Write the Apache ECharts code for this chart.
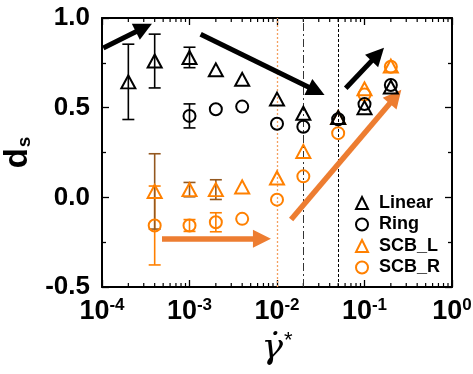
<!DOCTYPE html>
<html><head><meta charset="utf-8">
<script src="https://cdn.jsdelivr.net/npm/echarts@6/dist/echarts.min.js"></script>
<style>html,body{margin:0;padding:0;background:#fff}#c{width:473px;height:374px}</style>
</head><body><div id="c"></div>
<script>
// ---- data ----
const linearX   = [2e-4, 4e-4, 1e-3, 2e-3, 4e-3, 1e-2, 2e-2, 5e-2, 0.1, 0.2];
const linearY   = [0.644, 0.76, 0.78, 0.711, 0.658, 0.548, 0.469, 0.445, 0.50, 0.615];
const linearErr = [0.21, 0.15, 0.057, 0, 0, 0, 0, 0, 0, 0];
const ringX     = [1e-3, 2e-3, 4e-3, 1e-2, 2e-2, 5e-2, 0.1, 0.2];
const ringY     = [0.454, 0.491, 0.506, 0.41, 0.394, 0.435, 0.52, 0.626];
const ringErr   = [0.067, 0, 0, 0, 0, 0, 0, 0];
const scbX      = [4e-4, 1e-3, 2e-3, 4e-3, 1e-2, 2e-2, 5e-2, 0.1, 0.2];
const scbLY     = [0.033, 0.043, 0.043, 0.058, 0.108, 0.256, 0.445, 0.605, 0.732];
const scbLErr   = [0.21, 0.04, 0.055, 0, 0, 0, 0, 0, 0];
const scbRY     = [-0.157, -0.157, -0.139, -0.12, -0.013, 0.117, 0.358, 0.573, 0.728];
const scbRErr   = [0.22, 0.033, 0.053, 0, 0, 0, 0, 0, 0];
const seriesNames = ['Linear', 'Ring', 'SCB_L', 'SCB_R'];
const refLines  = [1e-3, 4e-3, 1e-2, 2e-2, 5e-2];
const arrowsBlack  = [[[1.035e-4, 0.833], [3.01e-4, 0.946]],
                      [[1.34e-3, 0.909], [0.02825, 0.593]],
                      [[0.061, 0.608], [0.1419, 0.797]]];
const arrowsOrange = [[[4.85e-4, -0.231], [6.73e-3, -0.231]],
                      [[0.0145, -0.124], [0.226, 0.561]]];

const ORANGE = '#FF8000', BROWN = '#94581F', ARROW_OR = '#ED7D31';
const FONT = 'Liberation Sans, Arial, sans-serif';

const minorVals = [];
for (let k = -4; k < 0; k++) for (let m = 2; m <= 9; m++) minorVals.push([m * Math.pow(10, k), 0]);

function errSeries(xs, ys, errs, color, z) {
  const data = xs.map((x, i) => [x, ys[i] - errs[i], ys[i] + errs[i]]).filter(d => d[2] > d[1]);
  return {
    type: 'custom', silent: true, z: z, data: data, encode: { x: 0, y: [1, 2] },
    renderItem: function (params, api) {
      const lo = api.coord([api.value(0), api.value(1)]);
      const hi = api.coord([api.value(0), api.value(2)]);
      const w = 6, st = { stroke: color, lineWidth: 1.6 };
      return { type: 'group', children: [
        { type: 'line', shape: { x1: lo[0], y1: lo[1], x2: hi[0], y2: hi[1] }, style: st },
        { type: 'line', shape: { x1: lo[0] - w, y1: lo[1], x2: lo[0] + w, y2: lo[1] }, style: st },
        { type: 'line', shape: { x1: hi[0] - w, y1: hi[1], x2: hi[0] + w, y2: hi[1] }, style: st }
      ]};
    }
  };
}
function pts(xs, ys) { return xs.map((x, i) => [x, ys[i]]); }
function scatter(name, xs, ys, symbol, size, color, z) {
  return { type: 'scatter', name: name, data: pts(xs, ys), symbol: symbol, symbolSize: size, z: z,
    itemStyle: { color: 'transparent', borderColor: color, borderWidth: 2, opacity: 1 } };
}
const refStyles = [
  { color: '#000', type: [2, 2], width: 1 },
  { color: '#333', type: [8, 3, 2, 3], width: 1 },
  { color: '#F4A060', type: [2, 2], width: 1.3 },
  { color: '#333', type: [8, 3, 2, 3], width: 1 },
  { color: '#000', type: [3, 2], width: 1 }
];

const chart = echarts.init(document.getElementById('c'), null, { renderer: 'canvas' });
const axisLineStyle = { color: '#000', width: 2 };
chart.setOption({
  animation: false,
  backgroundColor: '#fff',
  grid: { left: 102, right: 21, top: 18, bottom: 87, containLabel: false, outerBoundsMode: 'none' },
  xAxis: [{
    type: 'log', logBase: 10, min: 1e-4, max: 1, position: 'bottom',
    axisLine: { onZero: false, lineStyle: axisLineStyle }, splitLine: { show: false },
    axisTick: { inside: true, length: 7, lineStyle: { color: '#000', width: 1.3 } },
    axisLabel: {
      margin: 10, color: '#000', fontFamily: FONT,
      formatter: v => '{b|10}{s|' + Math.round(Math.log10(v)) + '}',
      rich: { b: { fontSize: 27, fontWeight: 'bold', fontFamily: FONT, color: '#000' },
              s: { fontSize: 17, fontWeight: 'bold', fontFamily: FONT, color: '#000', verticalAlign: 'top', padding: [0, 0, 12, 0] } }
    },
    name: '{g|γ̇}{a|*}', nameLocation: 'middle', nameGap: 40,
    nameTextStyle: { rich: {
      g: { fontSize: 36, fontStyle: 'italic', fontFamily: 'DejaVu Serif, serif', color: '#000' },
      a: { fontSize: 22, fontFamily: FONT, color: '#000', verticalAlign: 'top', padding: [0, 0, 16, 1] } } }
  }, {
    type: 'log', logBase: 10, min: 1e-4, max: 1, position: 'top',
    axisLine: { onZero: false, lineStyle: axisLineStyle }, splitLine: { show: false },
    axisTick: { inside: true, length: 7, lineStyle: { color: '#000', width: 1.3 } },
    axisLabel: { show: false }
  }],
  yAxis: [{
    type: 'value', min: -0.5, max: 1.0, interval: 0.5, position: 'left',
    axisLine: { onZero: false, lineStyle: axisLineStyle }, splitLine: { show: false },
    axisTick: { inside: true, length: 7, lineStyle: { color: '#000', width: 1.3 } },
    minorTick: { show: true, splitNumber: 2, length: 4, lineStyle: { color: '#000', width: 1.3 } },
    axisLabel: { margin: 12, fontSize: 26, fontWeight: 'bold', fontFamily: FONT, color: '#000',
      padding: [8, 0, 0, 0], formatter: v => v.toFixed(1) },
    name: '{d|d}{s|s}', nameLocation: 'middle', nameGap: 62, nameRotate: 90,
    nameTextStyle: { rich: {
      d: { fontSize: 33, fontWeight: 'bold', fontFamily: FONT, color: '#000' },
      s: { fontSize: 19, fontWeight: 'bold', fontFamily: FONT, color: '#000', verticalAlign: 'bottom', padding: [12, 0, 0, 1] } } }
  }, {
    type: 'value', min: -0.5, max: 1.0, interval: 0.5, position: 'right',
    axisLine: { onZero: false, lineStyle: axisLineStyle }, splitLine: { show: false },
    axisTick: { inside: true, length: 7, lineStyle: { color: '#000', width: 1.3 } },
    minorTick: { show: true, splitNumber: 2, length: 4, lineStyle: { color: '#000', width: 1.3 } },
    axisLabel: { show: false }
  }],
  legend: {
    orient: 'vertical', left: 350, top: 189, itemWidth: 12, itemHeight: 12, itemGap: 3.5,
    textStyle: { fontSize: 18, fontWeight: 'bold', fontFamily: FONT, color: '#000', lineHeight: 18, padding: [0, 0, 0, 6] },
    data: [
      { name: 'Linear', icon: 'triangle', itemStyle: { color: 'transparent', borderColor: '#000', borderWidth: 2 } },
      { name: 'Ring', icon: 'circle', itemStyle: { color: 'transparent', borderColor: '#000', borderWidth: 2 } },
      { name: 'SCB_L', icon: 'triangle', itemStyle: { color: 'transparent', borderColor: ORANGE, borderWidth: 2 } },
      { name: 'SCB_R', icon: 'circle', itemStyle: { color: 'transparent', borderColor: ORANGE, borderWidth: 2 } }
    ]
  },
  series: [
    { type: 'scatter', data: [], z: 1, silent: true,
      markLine: { silent: true, symbol: ['none', 'none'], label: { show: false },
        data: refLines.map((v, i) => ({ xAxis: v, lineStyle: refStyles[i] })) } },
    { type: 'custom', silent: true, z: 2, data: minorVals, encode: { x: 0, y: 1 },
      renderItem: function (params, api) {
        const b = api.coord([api.value(0), -0.5]);
        const t = api.coord([api.value(0), 1.0]);
        const st = { stroke: '#000', lineWidth: 1.2 };
        return { type: 'group', children: [
          { type: 'line', shape: { x1: b[0], y1: b[1], x2: b[0], y2: b[1] - 4 }, style: st },
          { type: 'line', shape: { x1: t[0], y1: t[1], x2: t[0], y2: t[1] + 4 }, style: st }
        ]};
      } },
    errSeries(scbX, scbRY, scbRErr, ORANGE, 3),
    errSeries(scbX, scbLY, scbLErr, BROWN, 4),
    errSeries(ringX, ringY, ringErr, '#000', 5),
    errSeries(linearX, linearY, linearErr, '#000', 6),
    scatter('SCB_R', scbX, scbRY, 'circle', 12, ORANGE, 7),
    scatter('SCB_L', scbX, scbLY, 'triangle', [14, 13], ORANGE, 8),
    scatter('Ring', ringX, ringY, 'circle', 12, '#000', 9),
    scatter('Linear', linearX, linearY, 'triangle', [14, 13], '#000', 10),
    { type: 'scatter', data: [], z: 12, silent: true,
      markLine: { silent: true, symbol: ['none', 'triangle'], symbolSize: [18, 18], label: { show: false },
        lineStyle: { color: '#000', width: 5, type: 'solid' }, itemStyle: { color: '#000' },
        data: arrowsBlack.map(a => [{ coord: a[0] }, { coord: a[1] }]) } },
    { type: 'scatter', data: [], z: 12, silent: true,
      markLine: { silent: true, symbol: ['none', 'triangle'], symbolSize: [18, 18], label: { show: false },
        lineStyle: { color: ARROW_OR, width: 5.5, type: 'solid' }, itemStyle: { color: ARROW_OR },
        data: arrowsOrange.map(a => [{ coord: a[0] }, { coord: a[1] }]) } }
  ]
});
</script></body></html>
